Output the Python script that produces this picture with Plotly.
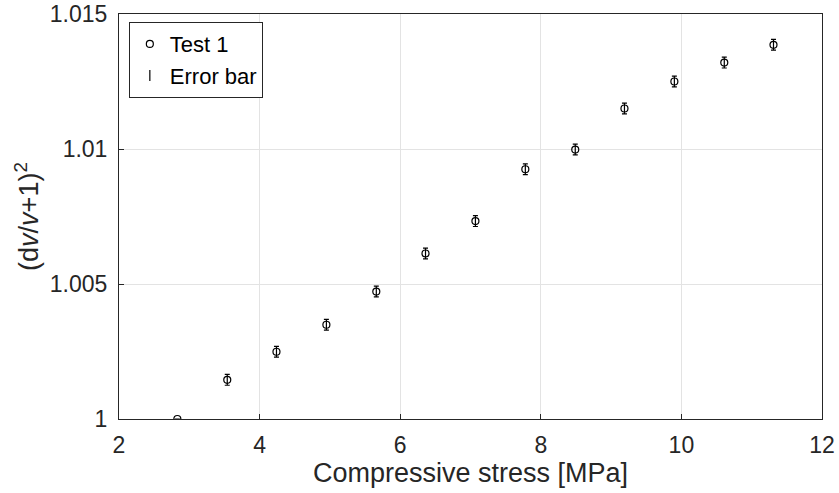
import plotly.graph_objects as go

stress = [2.83, 3.54, 4.24, 4.95, 5.66, 6.36, 7.07, 7.78, 8.49, 9.19, 9.90, 10.61, 11.31]
ratio = [1.0000, 1.00145, 1.00249, 1.00349, 1.00472, 1.00613, 1.00733, 1.00925, 1.00998, 1.01150, 1.01250, 1.01320, 1.01386]
err = [0.0, 0.0002, 0.0002, 0.0002, 0.0002, 0.0002, 0.0002, 0.0002, 0.0002, 0.0002, 0.0002, 0.0002, 0.0002]

font = "Liberation Sans, Arial, sans-serif"
ink = "#262626"

fig = go.Figure()
fig.add_trace(go.Scatter(
    x=stress, y=ratio, mode="markers", name="Error bar",
    marker=dict(size=1, color="rgba(0,0,0,0)"),
    error_y=dict(type="data", array=err, visible=True, color="black", thickness=1.2, width=2.5),
    showlegend=False, hoverinfo="skip",
))
fig.add_trace(go.Scatter(
    x=stress, y=ratio, mode="markers", name="Test 1",
    marker=dict(symbol="circle-open", size=7, color="black", line=dict(width=1.2)),
))
# legend proxy for the error bar entry
fig.add_trace(go.Scatter(
    x=[None], y=[None], mode="markers", name="Error bar",
    marker=dict(symbol="line-ns-open", size=8, color="black", line=dict(width=1.2)),
))

axis_common = dict(
    showline=True, linecolor=ink, linewidth=1, mirror=True,
    ticks="inside", ticklen=5, tickcolor=ink,
    showgrid=True, gridcolor="#e3e3e3", gridwidth=1,
    zeroline=False, automargin=False,
    tickfont=dict(family=font, size=23, color=ink),
)

fig.update_layout(
    width=839, height=493,
    margin=dict(l=119, r=17, t=14, b=74),
    paper_bgcolor="white", plot_bgcolor="white",
    font=dict(family=font, color=ink),
    xaxis=dict(range=[2, 12], tickvals=[2, 4, 6, 8, 10, 12], ticklabelstandoff=5,
               title=dict(text="Compressive stress [MPa]", font=dict(family=font, size=27, color=ink), standoff=4),
               **axis_common),
    yaxis=dict(range=[1, 1.015], tickvals=[1, 1.005, 1.01, 1.015],
               ticktext=["1", "1.005", "1.01", "1.015"], ticklabelstandoff=6,
               title=dict(text="(d<i>v</i>/<i>v</i>+1)<sup>2</sup>", font=dict(family=font, size=27, color=ink), standoff=3),
               **axis_common),
    legend=dict(x=0.014, y=0.98, xanchor="left", yanchor="top",
                bgcolor="white", bordercolor=ink, borderwidth=1,
                font=dict(family=font, size=22, color="black"),
                itemwidth=30, tracegroupgap=0),
    showlegend=True,
)

fig.write_html("out.html")
